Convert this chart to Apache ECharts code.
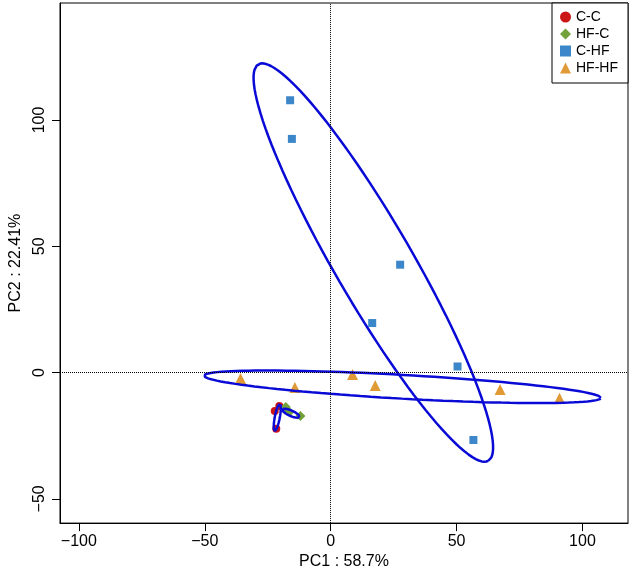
<!DOCTYPE html>
<html>
<head>
<meta charset="utf-8">
<script src="https://cdn.jsdelivr.net/npm/echarts@6/dist/echarts.min.js"></script>
<style>
  html, body { margin: 0; padding: 0; background: #fff; }
  #chart { width: 630px; height: 575px; }
</style>
</head>
<body>
<div id="chart"></div>
<script>
// groups in the legend
const groups = ['C-C', 'HF-C', 'C-HF', 'HF-HF']
const groupColors = ['#cc1616', '#73a23a', '#3b87c9', '#e09a36']
const groupSymbols = ['circle', 'diamond', 'rect', 'triangle']
const groupSizes = [8, 10, 8, 11]

// PC1 / PC2 scores
const ccPoints = [[-22.2, -15.2], [-21.6, -22.2], [-20.4, -13.2]]
const hfcPoints = [[-17.8, -13.6], [-16.4, -15.6], [-12.0, -17.2]]
const chfPoints = [[-16.1, 107.8], [-15.4, 92.5], [27.6, 42.7], [16.5, 19.6], [50.4, 2.4], [56.7, -26.7]]
const hfhfPoints = [[-35.8, -2.4], [-14.2, -5.9], [8.7, -0.8], [17.7, -5.1], [67.3, -6.7], [90.9, -10.2]]

// group ellipses: centre, semi-axes, angle (deg)
const ellipseCenters = [[-21.2, -17.75], [-15.8, -16.1], [16.95, 43.55], [28.5, -5.63]]
const ellipseAxes = [[5.44, 1.0], [3.72, 1.1], [90.8, 15.4], [79.0, 4.7]]
const ellipseAngles = [79.4, -23.8, -59.8, -3.2]

// axis ticks
const xTicks = [-100, -50, 0, 50, 100]
const yTicks = [-50, 0, 50, 100]

const font = 'Liberation Sans, Arial, sans-serif'
const pointSets = [ccPoints, hfcPoints, chfPoints, hfhfPoints]

function ellipseOutline(c, ax, angle) {
  const t = angle * Math.PI / 180
  const out = []
  for (let i = 0; i <= 120; i++) {
    const a = i / 120 * 2 * Math.PI
    const p = ax[0] * Math.cos(a)
    const q = ax[1] * Math.sin(a)
    out.push([c[0] + p * Math.cos(t) - q * Math.sin(t), c[1] + p * Math.sin(t) + q * Math.cos(t)])
  }
  return out
}

const minus = v => String(v).replace('-', '\u2212')

const chart = echarts.init(document.getElementById('chart'))

const series = []
groups.forEach((g, i) => {
  series.push({
    name: g,
    type: 'scatter',
    symbol: groupSymbols[i],
    symbolSize: groupSizes[i],
    itemStyle: { color: groupColors[i], opacity: 1 },
    data: pointSets[i],
    z: 3
  })
})
ellipseCenters.forEach((c, i) => {
  series.push({
    name: 'ellipse' + i,
    type: 'line',
    showSymbol: false,
    silent: true,
    lineStyle: { color: '#0a0ad6', width: 2.5 },
    data: ellipseOutline(c, ellipseAxes[i], ellipseAngles[i]),
    z: 4
  })
})
// dotted zero lines
series[0].markLine = {
  silent: true,
  symbol: 'none',
  label: { show: false },
  lineStyle: { color: '#000', type: 'dotted', width: 1 },
  data: [{ xAxis: 0 }, { yAxis: 0 }]
}

const option = {
  animation: false,
  backgroundColor: '#fff',
  grid: {
    left: 55, right: 2, top: 3, bottom: 47,
    show: true, borderColor: '#000', borderWidth: 1
  },
  legend: {
    data: groups,
    orient: 'vertical',
    right: 2,
    top: 3,
    itemWidth: 11,
    itemHeight: 11,
    itemGap: 3,
    padding: [7, 10, 8, 8],
    borderColor: '#000',
    borderWidth: 1,
    backgroundColor: '#fff',
    textStyle: { fontFamily: font, fontSize: 14, color: '#000' }
  },
  xAxis: {
    type: 'value',
    min: -107.5,
    max: 118.1,
    name: 'PC1 : 58.7%',
    nameLocation: 'middle',
    nameGap: 26,
    nameTextStyle: { fontFamily: font, fontSize: 16, color: '#000' },
    axisLine: { show: true, onZero: false, lineStyle: { color: '#000', width: 1 } },
    axisTick: { show: true, length: 8, customValues: xTicks, lineStyle: { color: '#000' } },
    axisLabel: { customValues: xTicks, margin: 10, fontFamily: font, fontSize: 16, color: '#000', formatter: minus },
    splitLine: { show: false }
  },
  yAxis: {
    type: 'value',
    min: -59.6,
    max: 146.3,
    name: 'PC2 : 22.41%',
    nameLocation: 'middle',
    nameGap: 36,
    nameTextStyle: { fontFamily: font, fontSize: 16, color: '#000' },
    axisLine: { show: true, onZero: false, lineStyle: { color: '#000', width: 1 } },
    axisTick: { show: true, length: 8, customValues: yTicks, lineStyle: { color: '#000' } },
    axisLabel: { customValues: yTicks, rotate: 90, margin: 12, fontFamily: font, fontSize: 16, color: '#000', formatter: minus },
    splitLine: { show: false }
  },
  series: series
}

chart.setOption(option)
</script>
</body>
</html>
